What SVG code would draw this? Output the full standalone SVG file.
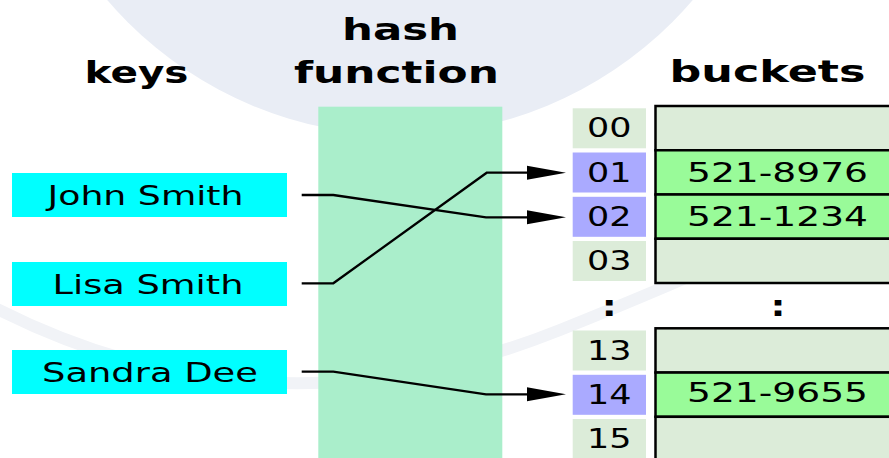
<svg xmlns="http://www.w3.org/2000/svg" width="889" height="458" viewBox="0 0 889 458">
  <style>
    text { font-family: "DejaVu Sans", "Liberation Sans", sans-serif; fill: #000; }
    .head { font-size: 31px; font-weight: bold; }
    .key { font-size: 27px; }
    .idx { font-size: 26px; }
    .val { font-size: 26px; }
    .dots { font-size: 28px; font-weight: bold; }
    .keybox { fill: #00ffff; }
    .cell { fill: #dcecd9; }
    .cell.hit { fill: #aaaaff; }
    .row { fill: #dcecd9; stroke: #000; stroke-width: 2.5; }
    .row.full { fill: #99fb99; }
    .link { fill: none; stroke: #000; stroke-width: 2.3; }
  </style>
  <defs>
    <marker id="arrow" markerUnits="userSpaceOnUse" markerWidth="40" markerHeight="14" refX="0" refY="7" orient="auto" overflow="visible">
      <path d="M0,0 L39,7 L0,14 z" fill="#000"/>
    </marker>
  </defs>

  <!-- background with pale seal -->
  <rect width="889" height="458" fill="#ffffff"/>
  <g id="seal">
    <circle cx="400" cy="-250" r="385" fill="#e9edf5"/>
    <path d="M-20,300 Q260,450 560,330 T900,160" fill="none" stroke="#f1f3f7" stroke-width="12"/>
  </g>

  <!-- column headers -->
  <g id="headers">
    <text class="head" x="84.5" y="83" textLength="104" lengthAdjust="spacingAndGlyphs">keys</text>
    <text class="head" x="342" y="40" textLength="117" lengthAdjust="spacingAndGlyphs">hash</text>
    <text class="head" x="294" y="83.3" textLength="205" lengthAdjust="spacingAndGlyphs">function</text>
    <text class="head" x="669.5" y="82" textLength="196" lengthAdjust="spacingAndGlyphs">buckets</text>
  </g>

  <!-- hash function column -->
  <g id="hash-function">
    <rect x="318.3" y="106.7" width="184" height="352" fill="#aaeecb"/>
  </g>

  <!-- keys -->
  <g id="key-john">
    <rect class="keybox" x="12" y="173" width="275" height="44"/>
    <text class="key" x="47.5" y="205" textLength="196" lengthAdjust="spacingAndGlyphs">John Smith</text>
  </g>
  <g id="key-lisa">
    <rect class="keybox" x="12" y="262" width="275" height="44"/>
    <text class="key" x="52.5" y="293.5" textLength="191" lengthAdjust="spacingAndGlyphs">Lisa Smith</text>
  </g>
  <g id="key-sandra">
    <rect class="keybox" x="12" y="350" width="275" height="44"/>
    <text class="key" x="42" y="382" textLength="216" lengthAdjust="spacingAndGlyphs">Sandra Dee</text>
  </g>

  <!-- bucket indices -->
  <g id="index-00"><rect class="cell" x="572.7" y="108.3" width="73.3" height="40"/><text class="idx" x="587" y="137" textLength="44.5" lengthAdjust="spacingAndGlyphs">00</text></g>
  <g id="index-01"><rect class="cell hit" x="572.7" y="152.5" width="73.3" height="40"/><text class="idx" x="587" y="181.5" textLength="44.5" lengthAdjust="spacingAndGlyphs">01</text></g>
  <g id="index-02"><rect class="cell hit" x="572.7" y="196.8" width="73.3" height="40"/><text class="idx" x="587" y="225.8" textLength="44.5" lengthAdjust="spacingAndGlyphs">02</text></g>
  <g id="index-03"><rect class="cell" x="572.7" y="241" width="73.3" height="40"/><text class="idx" x="587" y="270" textLength="44.5" lengthAdjust="spacingAndGlyphs">03</text></g>
  <g id="index-13"><rect class="cell" x="572.7" y="330.5" width="73.3" height="40"/><text class="idx" x="587" y="359.5" textLength="44.5" lengthAdjust="spacingAndGlyphs">13</text></g>
  <g id="index-14"><rect class="cell hit" x="572.7" y="374.8" width="73.3" height="40"/><text class="idx" x="587" y="403.5" textLength="44.5" lengthAdjust="spacingAndGlyphs">14</text></g>
  <g id="index-15"><rect class="cell" x="572.7" y="419" width="73.3" height="40"/><text class="idx" x="587" y="447.5" textLength="44.5" lengthAdjust="spacingAndGlyphs">15</text></g>

  <!-- bucket entries -->
  <g id="bucket-00"><rect class="row" x="655.5" y="106" width="260" height="44.25"/></g>
  <g id="bucket-01"><rect class="row full" x="655.5" y="150.25" width="260" height="44.25"/><text class="val" x="687" y="181.5" textLength="181" lengthAdjust="spacingAndGlyphs">521-8976</text></g>
  <g id="bucket-02"><rect class="row full" x="655.5" y="194.5" width="260" height="44.25"/><text class="val" x="687" y="225.8" textLength="181" lengthAdjust="spacingAndGlyphs">521-1234</text></g>
  <g id="bucket-03"><rect class="row" x="655.5" y="238.75" width="260" height="44.25"/></g>
  <g id="bucket-13"><rect class="row" x="655.5" y="328.3" width="260" height="44.25"/></g>
  <g id="bucket-14"><rect class="row full" x="655.5" y="372.55" width="260" height="44.25"/><text class="val" x="687" y="402" textLength="181" lengthAdjust="spacingAndGlyphs">521-9655</text></g>
  <g id="bucket-15"><rect class="row" x="655.5" y="416.8" width="260" height="44.25"/></g>

  <!-- ellipsis between bucket ranges -->
  <g id="ellipsis">
    <text class="dots" x="601.8" y="316" textLength="15" lengthAdjust="spacingAndGlyphs">:</text>
    <text class="dots" x="770.5" y="316" textLength="15" lengthAdjust="spacingAndGlyphs">:</text>
  </g>

  <!-- hash mappings -->
  <g id="connectors">
    <path class="link" d="M301.7,195 H333.3 L486,217.3 H527" marker-end="url(#arrow)"/>
    <path class="link" d="M301.7,283.3 H333.3 L486.7,172.7 H527" marker-end="url(#arrow)"/>
    <path class="link" d="M301.7,371.7 H333.3 L486,394.3 H527" marker-end="url(#arrow)"/>
  </g>
</svg>
